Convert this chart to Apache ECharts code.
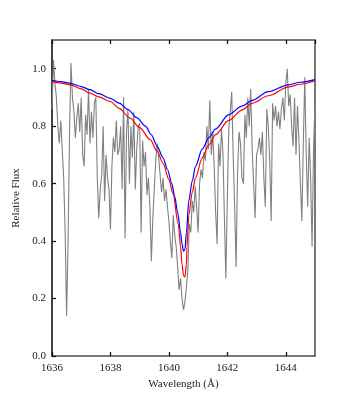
<!DOCTYPE html>
<html>
<head>
<meta charset="utf-8">
<script src="https://cdn.jsdelivr.net/npm/echarts@6/dist/echarts.min.js"></script>
<style>
  html, body { margin: 0; padding: 0; background: #fff; }
  #chart { width: 350px; height: 400px; }
</style>
</head>
<body>
<div id="chart"></div>
<script>
// observed spectrum, sampled every 0.05 A from 1636.00
var obsStart = 1636.0;
var obsStep = 0.05;
var obsFlux = [
  0.86, 1.03, 0.95, 0.90, 0.80, 0.74, 0.82, 0.72, 0.62, 0.43,
  0.14, 0.40, 0.78, 1.02, 0.90, 0.85, 0.76, 0.83, 0.88, 0.78,
  0.90, 0.70, 0.66, 0.84, 0.77, 0.93, 0.74, 0.85, 0.76, 0.88,
  0.90, 0.62, 0.48, 0.58, 0.63, 0.80, 0.54, 0.70, 0.62, 0.58,
  0.44, 0.66, 0.76, 0.71, 0.82, 0.70, 0.72, 0.80, 0.58, 0.90,
  0.41, 0.78, 0.86, 0.60, 0.80, 0.69, 0.85, 0.58, 0.72, 0.80,
  0.81, 0.43, 0.75, 0.66, 0.71, 0.56, 0.62, 0.52, 0.33, 0.48,
  0.58, 0.68, 0.74, 0.69, 0.63, 0.57, 0.62, 0.54, 0.58, 0.52,
  0.47, 0.40, 0.34, 0.49, 0.42, 0.38, 0.31, 0.23, 0.27, 0.20,
  0.16, 0.19, 0.24, 0.30, 0.46, 0.43, 0.54, 0.50, 0.59, 0.52,
  0.43, 0.60, 0.65, 0.62, 0.71, 0.68, 0.80, 0.72, 0.89, 0.70,
  0.78, 0.66, 0.50, 0.39, 0.74, 0.66, 0.79, 0.71, 0.48, 0.27,
  0.55, 0.79, 0.85, 0.92, 0.70, 0.52, 0.31, 0.64, 0.78, 0.74,
  0.62, 0.60, 0.84, 0.76, 0.90, 0.80, 0.93, 0.72, 0.60, 0.48,
  0.70, 0.72, 0.76, 0.70, 0.78, 0.62, 0.52, 0.86, 0.80, 0.68,
  0.47, 0.88, 0.82, 0.87, 0.80, 0.85, 0.79, 0.86, 0.90, 0.82,
  0.95, 1.00, 0.87, 0.91, 0.80, 0.73, 0.90, 0.70, 0.87, 0.75,
  0.60, 0.47, 0.74, 0.97, 0.70, 0.52, 0.76, 0.62, 0.38, 0.72,
  0.88
];

// model fits
var blueWave = [1636.0, 1636.3, 1636.6, 1637.0, 1637.3, 1637.6, 1638.0, 1638.3, 1638.6, 1638.9,
  1639.2, 1639.4, 1639.6, 1639.8, 1639.95, 1640.1, 1640.2, 1640.3, 1640.4, 1640.45,
  1640.5, 1640.55, 1640.6, 1640.68, 1640.8, 1640.91, 1641.14, 1641.37, 1641.59, 1642.05,
  1642.5, 1642.85, 1643.4, 1644.08, 1644.5, 1645.0];
var blueFlux = [0.960, 0.955, 0.950, 0.938, 0.927, 0.913, 0.897, 0.880, 0.858, 0.830,
  0.800, 0.770, 0.730, 0.690, 0.650, 0.600, 0.555, 0.500, 0.430, 0.390,
  0.365, 0.370, 0.430, 0.540, 0.610, 0.660, 0.720, 0.760, 0.790, 0.840,
  0.870, 0.890, 0.920, 0.944, 0.953, 0.962];

var redWave = [1636.0, 1636.3, 1636.62, 1637.0, 1637.3, 1637.6, 1637.99, 1638.3, 1638.67, 1639.0,
  1639.36, 1639.6, 1639.8, 1640.0, 1640.14, 1640.32, 1640.4, 1640.45, 1640.5, 1640.55,
  1640.6, 1640.62, 1640.68, 1640.8, 1640.91, 1641.14, 1641.37, 1641.59, 1642.05, 1642.51,
  1642.85, 1643.4, 1644.08, 1644.5, 1645.0];
var redFlux = [0.955, 0.950, 0.944, 0.930, 0.915, 0.902, 0.886, 0.862, 0.828, 0.795,
  0.753, 0.712, 0.671, 0.615, 0.565, 0.460, 0.380, 0.320, 0.280, 0.275,
  0.320, 0.380, 0.490, 0.570, 0.620, 0.690, 0.735, 0.770, 0.820, 0.857,
  0.880, 0.906, 0.936, 0.946, 0.958];

var xTicks = { min: 1636, max: 1645, interval: 2 };
var yTicks = { min: 0, max: 1.1, interval: 0.2 };

function pairs(xs, ys) {
    return ys.map(function (v, i) { return [xs[i], v]; });
}
var obsData = obsFlux.map(function (v, i) {
    return [+(obsStart + i * obsStep).toFixed(2), v];
});

var fontFamily = 'Liberation Serif';
var spine = '#4d4d4d';
var tickStyle = { inside: true, length: 4, lineStyle: { color: '#111', width: 1.3 } };

var myChart = echarts.init(document.getElementById('chart'));
var option = {
    animation: false,
    backgroundColor: '#fff',
    grid: { left: 52, right: 35, top: 40, bottom: 44 },
    xAxis: [{
        type: 'value',
        min: xTicks.min, max: xTicks.max, interval: xTicks.interval,
        name: 'Wavelength (\u00c5)',
        nameLocation: 'middle',
        nameGap: 23,
        nameTextStyle: { fontFamily: fontFamily, fontSize: 11, color: '#222' },
        axisLine: { show: true, onZero: false, lineStyle: { color: spine, width: 1.5 } },
        axisTick: tickStyle,
        axisLabel: {
            showMaxLabel: false, margin: 7,
            fontFamily: fontFamily, fontSize: 11, color: '#222',
            formatter: function (v) { return String(v); }
        },
        splitLine: { show: false }
    }, {
        type: 'value',
        position: 'top',
        min: xTicks.min, max: xTicks.max, interval: xTicks.interval,
        axisLine: { show: true, onZero: false, lineStyle: { color: spine, width: 1.5 } },
        axisTick: tickStyle,
        axisLabel: { show: false },
        splitLine: { show: false }
    }],
    yAxis: [{
        type: 'value',
        min: yTicks.min, max: yTicks.max, interval: yTicks.interval,
        name: 'Relative Flux',
        nameLocation: 'middle',
        nameGap: 29,
        nameTextStyle: { fontFamily: fontFamily, fontSize: 11, color: '#222' },
        axisLine: { show: true, onZero: false, lineStyle: { color: '#000', width: 1.5 } },
        axisTick: tickStyle,
        axisLabel: {
            showMaxLabel: false, margin: 6,
            fontFamily: fontFamily, fontSize: 11, color: '#222',
            formatter: function (v) { return v.toFixed(1); }
        },
        splitLine: { show: false }
    }, {
        type: 'value',
        position: 'right',
        min: yTicks.min, max: yTicks.max, interval: yTicks.interval,
        axisLine: { show: true, onZero: false, lineStyle: { color: spine, width: 1.5 } },
        axisTick: { show: false },
        axisLabel: { show: false },
        splitLine: { show: false }
    }],
    series: [
        {
            name: 'observed',
            type: 'line',
            showSymbol: false,
            data: obsData,
            lineStyle: { color: '#808080', width: 1.1 },
            z: 2
        },
        {
            name: 'model red',
            type: 'line',
            showSymbol: false,
            smooth: 0.3,
            smoothMonotone: 'x',
            data: pairs(redWave, redFlux),
            lineStyle: { color: '#ff0000', width: 1.2 },
            z: 3
        },
        {
            name: 'model blue',
            type: 'line',
            showSymbol: false,
            smooth: 0.3,
            smoothMonotone: 'x',
            data: pairs(blueWave, blueFlux),
            lineStyle: { color: '#0000ff', width: 1.2 },
            z: 4
        }
    ]
};
myChart.setOption(option);
</script>
</body>
</html>
